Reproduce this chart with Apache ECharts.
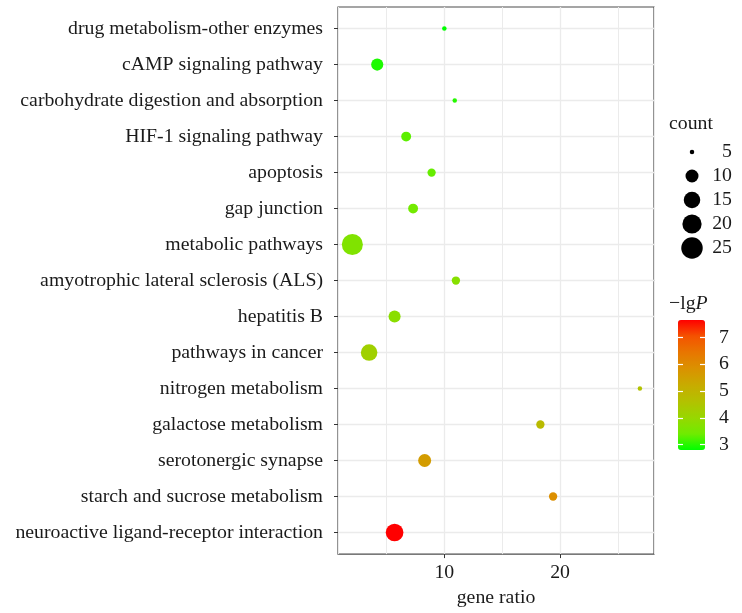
<!DOCTYPE html>
<html><head><meta charset="utf-8">
<script src="https://cdn.jsdelivr.net/npm/echarts@6/dist/echarts.min.js"></script>
<style>html,body{margin:0;padding:0;background:#fff}#c{width:742px;height:613px}</style>
</head><body><div id="c"></div>
<script>
// ---- data (top to bottom) ----
const categories = [
  'drug metabolism-other enzymes',
  'cAMP signaling pathway',
  'carbohydrate digestion and absorption',
  'HIF-1 signaling pathway',
  'apoptosis',
  'gap junction',
  'metabolic pathways',
  'amyotrophic lateral sclerosis (ALS)',
  'hepatitis B',
  'pathways in cancer',
  'nitrogen metabolism',
  'galactose metabolism',
  'serotonergic synapse',
  'starch and sucrose metabolism',
  'neuroactive ligand-receptor interaction'
];
const geneRatio = [10.0, 4.2, 10.9, 6.7, 8.9, 7.3, 2.05, 11.0, 5.7, 3.5, 26.9, 18.3, 8.3, 19.4, 5.7];
const counts    = [5, 9, 5, 7, 6, 7, 24, 6, 9, 15, 5, 6, 10, 6, 17];
const lgP       = [2.8, 2.95, 3.0, 3.3, 3.35, 3.45, 3.65, 3.75, 3.8, 4.2, 4.6, 4.8, 5.6, 5.9, 7.65];
const xTicks = [10, 20];
const sizeLegend = [5, 10, 15, 20, 25];
const colorTicks = [3, 4, 5, 6, 7];

// ---- styles ----
const FONT = "'Liberation Serif','Times New Roman',serif";
const TXT = '#1a1a1a';
const FS = 19.8;
const colorStops = ['#00FF00','#70EB00','#98D700','#B3C100','#C8AB00','#DA9200','#E87600','#F45300','#FF0000'];
function sizeOf(c){ return 4.5 + 3.8*Math.sqrt(Math.max(c-5,0)); }

const idx = categories.map((_, i) => i);
const mainData = categories.map((c, i) => [geneRatio[i], i, lgP[i], counts[i]]);
const xMin = 0.81, xMax = 28.12;
const cMin = Math.min.apply(null, lgP), cMax = Math.max.apply(null, lgP);

const chart = echarts.init(document.getElementById('c'));
chart.setOption({
  animation: false,
  title: [
    {text: 'count', left: 669, top: 114, padding: 0,
     textStyle: {fontFamily: FONT, fontSize: FS, fontWeight: 'normal', color: TXT}},
    {text: '{a|\u2212lg}{b|P}', left: 669, top: 294, padding: 0,
     textStyle: {fontWeight: 'normal', rich: {
       a: {fontFamily: FONT, fontSize: FS, color: TXT, fontWeight: 'normal'},
       b: {fontFamily: FONT, fontSize: FS, color: TXT, fontWeight: 'normal', fontStyle: 'italic'}}}}
  ],
  grid: [
    {left: 338, top: 7, width: 316, height: 550, show: true, borderColor: '#4d4d4d', borderWidth: 1.2, backgroundColor: 'transparent'},
    {left: 680, top: 140, width: 24, height: 120},
    {left: 678, top: 320, width: 27, height: 130}
  ],
  xAxis: [
    {gridIndex: 0, type: 'value', min: xMin, max: xMax, position: 'bottom',
     axisLine: {show: false, onZero: false},
     axisTick: {show: true, customValues: xTicks, length: 4, lineStyle: {color: '#333'}},
     axisLabel: {customValues: xTicks, margin: 9, fontFamily: FONT, fontSize: FS, color: TXT},
     splitLine: {show: true, lineStyle: {color: '#ebebeb', width: 1.3}},
     name: 'gene ratio', nameLocation: 'middle', nameGap: 33,
     nameTextStyle: {fontFamily: FONT, fontSize: FS, color: TXT}},
    {gridIndex: 0, type: 'value', min: xMin, max: xMax, splitNumber: 5, position: 'top',
     axisLine: {show: false, onZero: false}, axisTick: {show: false}, axisLabel: {show: false},
     splitLine: {show: true, lineStyle: {color: '#ebebeb', width: 1}}},
    {gridIndex: 1, type: 'value', min: 0, max: 1, show: false, axisLine: {onZero: false}},
    {gridIndex: 2, type: 'value', min: 0, max: 1, show: false, axisLine: {onZero: false}}
  ],
  yAxis: [
    {gridIndex: 0, type: 'value', inverse: true, min: -0.6, max: categories.length - 0.4,
     axisLine: {show: false, onZero: false},
     axisTick: {show: true, customValues: idx, length: 4, lineStyle: {color: '#333'}},
     axisLabel: {customValues: idx, formatter: v => categories[Math.round(v)], margin: 15,
                 fontFamily: FONT, fontSize: FS, color: TXT},
     splitLine: {show: true, lineStyle: {color: '#ebebeb', width: 1.3}}},
    {gridIndex: 1, type: 'category', data: sizeLegend.map(String), inverse: true, position: 'right',
     axisLine: {show: false, onZero: false}, axisTick: {show: false}, splitLine: {show: false},
     axisLabel: {interval: 0, align: 'right', margin: 28, fontFamily: FONT, fontSize: FS, color: TXT}},
    {gridIndex: 2, type: 'value', min: cMin, max: cMax, position: 'left', z: 10,
     axisLine: {show: false, onZero: false}, splitLine: {show: false}, axisLabel: {show: false},
     axisTick: {show: true, inside: true, customValues: colorTicks, length: 5, lineStyle: {color: '#fff', width: 1.2}}},
    {gridIndex: 2, type: 'value', min: cMin, max: cMax, position: 'right', z: 10,
     axisLine: {show: false, onZero: false}, splitLine: {show: false},
     axisTick: {show: true, inside: true, customValues: colorTicks, length: 5, lineStyle: {color: '#fff', width: 1.2}},
     axisLabel: {customValues: colorTicks, margin: 14, fontFamily: FONT, fontSize: FS, color: TXT}}
  ],
  visualMap: {
    type: 'continuous', seriesIndex: 0, dimension: 2, min: cMin, max: cMax,
    left: 678, top: 320, itemWidth: 27, itemHeight: 130, padding: 0,
    calculable: false, hoverLink: false, z: 1,
    inRange: {color: colorStops}
  },
  series: [
    {type: 'scatter', xAxisIndex: 0, yAxisIndex: 0, data: mainData,
     symbolSize: v => sizeOf(v[3]), itemStyle: {opacity: 1}},
    {type: 'scatter', xAxisIndex: 2, yAxisIndex: 1,
     data: sizeLegend.map(c => [0.5, String(c), c]),
     symbolSize: v => sizeOf(v[2]), itemStyle: {color: '#000', opacity: 1}}
  ]
});
</script>
</body></html>
